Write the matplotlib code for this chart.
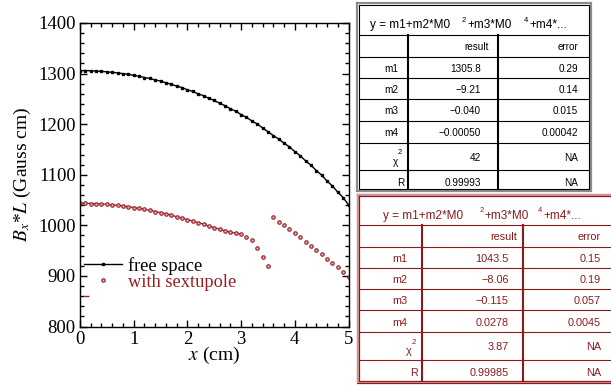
import matplotlib
matplotlib.use('Agg')
import matplotlib.pyplot as plt
from matplotlib.lines import Line2D
from matplotlib.ticker import MultipleLocator

plt.rcParams['font.family'] = ['Liberation Serif', 'DejaVu Serif']
plt.rcParams['mathtext.fontset'] = 'stix'

# position (cm)
x_cm = [0.0, 0.1, 0.2, 0.3, 0.4, 0.5, 0.6, 0.7, 0.8, 0.9,
        1.0, 1.1, 1.2, 1.3, 1.4, 1.5, 1.6, 1.7, 1.8, 1.9,
        2.0, 2.1, 2.2, 2.3, 2.4, 2.5, 2.6, 2.7, 2.8, 2.9,
        3.0, 3.1, 3.2, 3.3, 3.4, 3.5, 3.6, 3.7, 3.8, 3.9,
        4.0, 4.1, 4.2, 4.3, 4.4, 4.5, 4.6, 4.7, 4.8, 4.9, 5.0]

free_space = [1305.8, 1306.0, 1305.6, 1305.1, 1304.2, 1303.6, 1302.3, 1301.5, 1299.7, 1298.5,
              1296.4, 1294.8, 1292.1, 1290.3, 1287.4, 1285.2, 1281.8, 1279.0, 1275.2, 1272.3,
              1268.0, 1264.6, 1259.9, 1256.2, 1251.0, 1246.9, 1241.3, 1236.6, 1230.5, 1225.5,
              1219.0, 1213.5, 1206.4, 1200.4, 1192.5, 1185.2, 1177.4, 1170.6, 1162.3, 1155.1,
              1145.8, 1137.7, 1127.5, 1119.0, 1108.4, 1099.3, 1087.6, 1077.9, 1065.7, 1055.0, 1040.5]

sextupole = [1043.5, 1043.9, 1043.1, 1042.9, 1042.0, 1041.7, 1040.4, 1039.7, 1038.1, 1037.1,
             1035.2, 1033.8, 1031.5, 1029.8, 1027.2, 1025.3, 1022.4, 1020.2, 1017.1, 1014.7,
             1011.0, 1008.6, 1005.1, 1002.4, 998.5, 995.7, 991.9, 989.4, 986.0, 984.8,
             982.2, 976.3, 971.5, 955.1, 937.9, 919.6, 1016.4, 1007.1, 1000.0, 993.3,
             984.2, 976.3, 967.6, 959.7, 950.6, 943.3, 934.0, 926.1, 917.0, 907.7, 898.4]
n_sext_fit = 31  # fit line only drawn up to x = 3.0

# fit result tables
row_labels = ['m1', 'm2', 'm3', 'm4', 'χ', 'R']
free_result = ['1305.8', '−9.21', '−0.040', '−0.00050', '42', '0.99993']
free_error = ['0.29', '0.14', '0.015', '0.00042', 'NA', 'NA']
sext_result = ['1043.5', '−8.06', '−0.115', '0.0278', '3.87', '0.99985']
sext_error = ['0.15', '0.19', '0.057', '0.0045', 'NA', 'NA']

RED = '#9a1c22'
TRED = '#8b1a1a'

fig = plt.figure(figsize=(6.11, 3.85), dpi=100)
ax = fig.add_axes([80 / 611, 1 - 326.5 / 385, 268.5 / 611, 303.5 / 385])

ax.plot(x_cm, free_space, color='black', lw=1.0, marker='s', ms=1.6, label='free space')
ax.plot(x_cm[:n_sext_fit], sextupole[:n_sext_fit], color=RED, lw=0.9)
ax.plot(x_cm, sextupole, ls='none', marker='o', ms=2.5, mfc='#e0b0b0', mec=RED, mew=0.8,
        label='with sextupole')

ax.set_xlim(0, 5)
ax.set_ylim(800, 1400)
ax.xaxis.set_major_locator(MultipleLocator(1))
ax.xaxis.set_minor_locator(MultipleLocator(0.2))
ax.yaxis.set_major_locator(MultipleLocator(100))
ax.yaxis.set_minor_locator(MultipleLocator(20))
ax.tick_params(which='both', direction='in', top=True, right=True, width=1.0, labelsize=13.5)
ax.tick_params(which='major', length=5, pad=3)
ax.tick_params(which='minor', length=3)
for s in ax.spines.values():
    s.set_linewidth(1.0)

ax.set_xlabel('$x$ (cm)', fontsize=14, labelpad=-2)
ax.set_ylabel('$B_x$*$L$ (Gauss cm)', fontsize=14, labelpad=4)

handles = [Line2D([], [], color='black', lw=1.0, marker='s', ms=1.8),
           Line2D([], [], ls='none', marker='o', ms=2.5, mfc='#e0b0b0', mec=RED, mew=0.8),
           Line2D([], [], color=RED, lw=1.0, ls=(0, (3.5, 200)))]
leg = ax.legend(handles, ['free space', 'with sextupole', ''], loc='upper left',
                bbox_to_anchor=(0.0, 0.242), frameon=False, fontsize=13.2, numpoints=1,
                handlelength=2.1, handletextpad=0.3, labelspacing=-0.05, borderpad=0.1,
                borderaxespad=0.1)
leg.get_texts()[1].set_color(RED)

# tables drawn in pixel coordinates on an overlay
tab = fig.add_axes([0, 0, 1, 1], zorder=5)
tab.set_xlim(0, 611)
tab.set_ylim(385, 0)
tab.axis('off')
SANS = ['Liberation Sans', 'DejaVu Sans']


def draw_table(left, right, top, bottom, col1, col2, rows, color, border, results, errors,
               title_pos, fs, res_x, err_x, lab_x):
    tab.add_patch(plt.Rectangle((left, top), right - left, bottom - top, fc='white',
                                ec='none', zorder=1))
    for off, c, w in border:
        tab.plot([left + off, right - off, right - off, left + off, left + off],
                 [top + off, top + off, bottom - off, bottom - off, top + off],
                 color=c, lw=w, solid_joinstyle='miter', zorder=3)
    inner = border[-1][0]
    for y in rows:
        tab.plot([left + inner, right - inner], [y, y], color=color, lw=0.8, zorder=2)
    for xc in (col1, col2):
        tab.plot([xc, xc], [rows[0], bottom - inner], color=color, lw=1.5, zorder=2)
    # title pieces
    ty = title_pos[0]
    for xt, txt, sup in title_pos[1]:
        if sup:
            tab.text(xt, ty - 5, txt, fontsize=5.5, color=color, family=SANS, va='center')
        else:
            tab.text(xt, ty, txt, fontsize=8.5, color=color, family=SANS, va='center')
    yc = (rows[0] + rows[1]) / 2 + 1
    tab.text(res_x + 8, yc, 'result', fontsize=fs, color=color, family=SANS, ha='right', va='center')
    tab.text(err_x, yc, 'error', fontsize=fs, color=color, family=SANS, ha='right', va='center')
    edges = list(rows[1:]) + [bottom]
    for i in range(6):
        yc = (edges[i] + edges[i + 1]) / 2 + 1.5
        if i < 4:
            tab.text(lab_x, yc, row_labels[i], fontsize=fs, color=color, family=SANS,
                     ha='center', va='center')
        elif i == 4:
            tab.text(col1 - 10, yc + 4, row_labels[i], fontsize=fs, color=color, family=SANS,
                     ha='right', va='center')
            tab.text(col1 - 10, yc - 5, '2', fontsize=5.5, color=color, family=SANS,
                     ha='left', va='center')
        else:
            tab.text(col1 - 4, yc, row_labels[i], fontsize=fs, color=color, family=SANS,
                     ha='right', va='center')
        tab.text(res_x, yc, results[i], fontsize=fs, color=color, family=SANS,
                 ha='right', va='center')
        tab.text(err_x, yc, errors[i], fontsize=fs, color=color, family=SANS,
                 ha='right', va='center')


draw_table(356, 592, 2, 192, 408, 498, [35, 57, 78, 99, 121, 143, 170], 'black',
           [(0.8, '#8c8c8c', 1.6), (3, 'black', 0.8)], free_result, free_error,
           (25, [(370, 'y = m1+m2*M0', False), (462, '2', True), (467, '+m3*M0', False),
                 (524, '4', True), (529, '+m4*...', False)]),
           7.2, 481, 578, 391)

draw_table(356, 618, 193, 384, 422, 523, [225, 247, 268, 289, 310, 332, 360], TRED,
           [(0.6, TRED, 0.9), (1.8, '#d49a9a', 1.4), (3.2, TRED, 0.9)], sext_result, sext_error,
           (216, [(383, 'y = m1+m2*M0', False), (480, '2', True), (484, '+m3*M0', False),
                  (538, '4', True), (543, '+m4*...', False)]),
           7.8, 509, 601, 400)

fig.savefig('out.png', dpi=100)
